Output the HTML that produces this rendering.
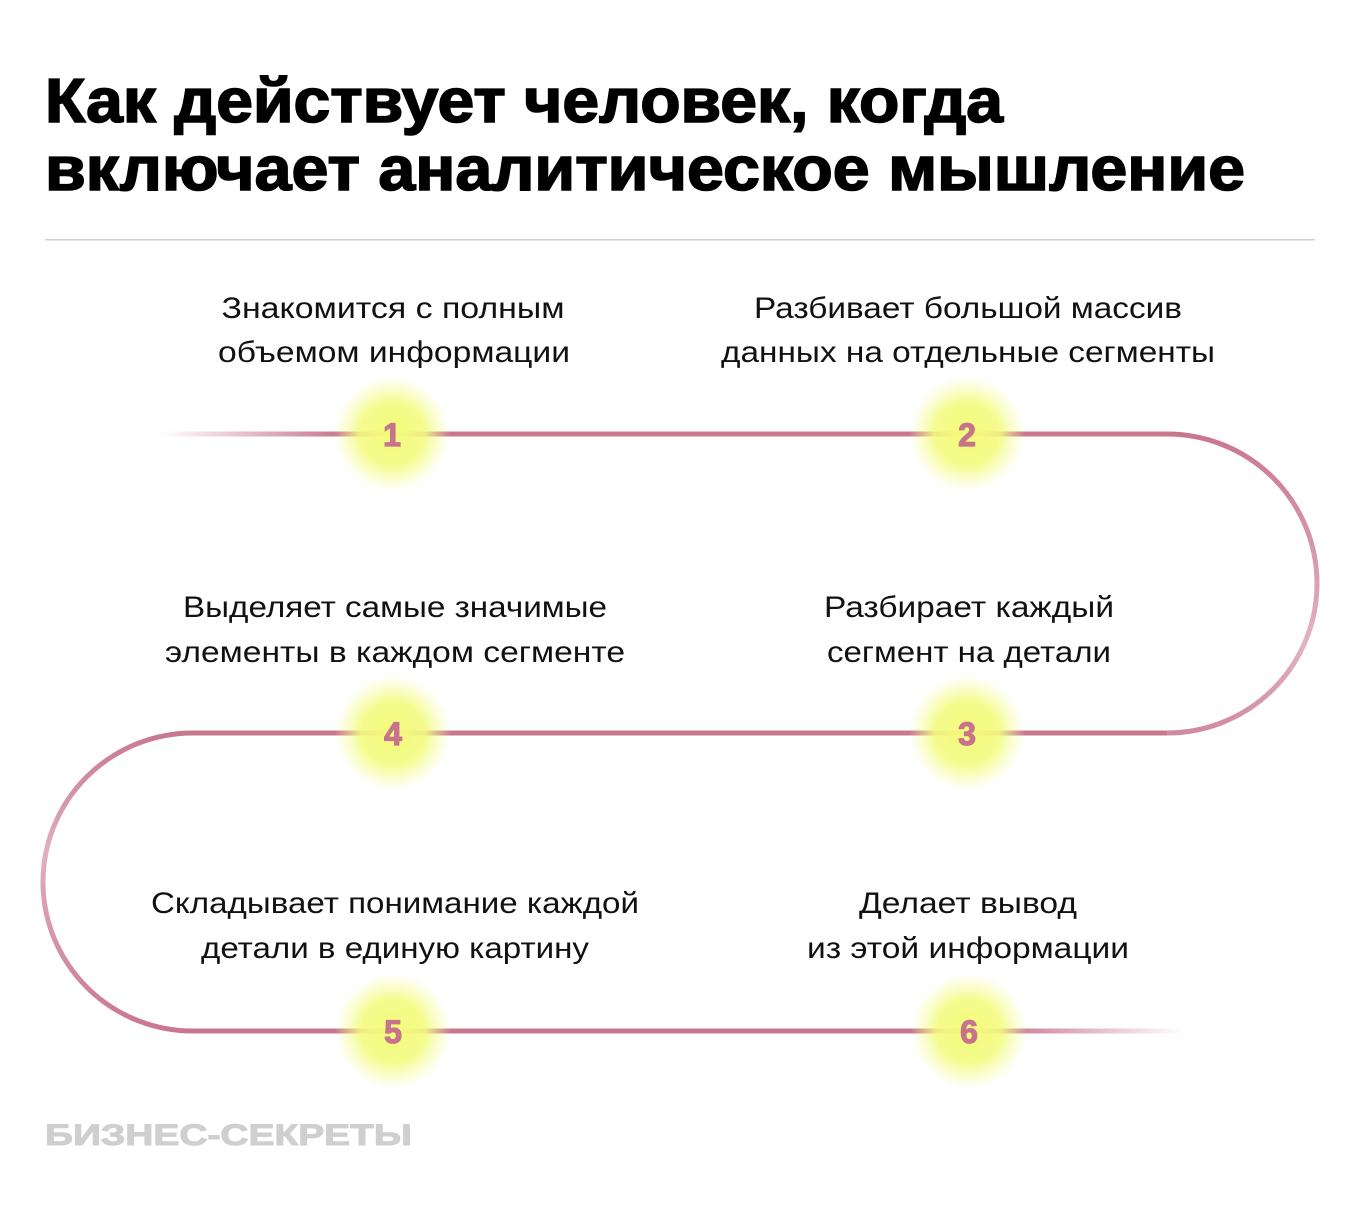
<!DOCTYPE html>
<html><head><meta charset="utf-8"><style>
html,body{margin:0;padding:0;background:#fff;}
svg{display:block;}
.t{font-family:"Liberation Sans","Noto Sans CJK SC",sans-serif;}
</style></head><body>
<svg width="1360" height="1211" viewBox="0 0 1360 1211" xmlns="http://www.w3.org/2000/svg">
<defs>
<radialGradient id="g"><stop offset="0" stop-color="#f3fb7a"/><stop offset="0.55" stop-color="#f3fb80" stop-opacity="0.9"/><stop offset="1" stop-color="#f6fca0" stop-opacity="0"/></radialGradient>
<linearGradient id="fl" x1="160" x2="340" y1="0" y2="0" gradientUnits="userSpaceOnUse"><stop offset="0" stop-color="#c9778f" stop-opacity="0"/><stop offset="1" stop-color="#c9778f"/></linearGradient>
<linearGradient id="fr" x1="1000" x2="1185" y1="0" y2="0" gradientUnits="userSpaceOnUse"><stop offset="0" stop-color="#c9778f"/><stop offset="1" stop-color="#c9778f" stop-opacity="0"/></linearGradient>
<linearGradient id="ar" x1="0" x2="0" y1="434" y2="733" gradientUnits="userSpaceOnUse"><stop offset="0" stop-color="#c9778f"/><stop offset="0.7" stop-color="#e2b3c2"/><stop offset="1" stop-color="#d08aa0"/></linearGradient>
<linearGradient id="al" x1="0" x2="0" y1="733" y2="1031" gradientUnits="userSpaceOnUse"><stop offset="0" stop-color="#c9778f"/><stop offset="0.4" stop-color="#e0b0c0"/><stop offset="1" stop-color="#c9778f"/></linearGradient>
</defs>
<g class="t" font-weight="bold" fill="#000" stroke="#000" stroke-width="1.6">
<text x="45" y="122" font-size="62" textLength="958" lengthAdjust="spacingAndGlyphs">Как действует человек, когда</text>
<text x="45" y="190" font-size="62" textLength="1200" lengthAdjust="spacingAndGlyphs">включает аналитическое мышление</text>
</g>
<rect x="45" y="239" width="1270" height="1.5" fill="#cfcfcf"/>
<g fill="none" stroke-width="5">
<line x1="160" y1="434" x2="345" y2="434" stroke="url(#fl)"/>
<path d="M345 434 H1167" stroke="#c9778f"/>
<path d="M1167 434 A150 149.5 0 0 1 1167 733" stroke="url(#ar)"/>
<path d="M1167 733 H193" stroke="#c9778f"/>
<path d="M193 733 A150 149 0 0 0 193 1031" stroke="url(#al)"/>
<path d="M193 1031 H1000" stroke="#c9778f"/>
<line x1="1000" y1="1031" x2="1185" y2="1031" stroke="url(#fr)"/>
</g>
<g fill="url(#g)">
<circle cx="392" cy="434" r="58"/><circle cx="967" cy="434" r="58"/>
<circle cx="393" cy="733" r="58"/><circle cx="967" cy="733" r="58"/>
<circle cx="393" cy="1031" r="58"/><circle cx="969" cy="1031" r="58"/>
</g>
<g class="t" font-weight="bold" font-size="32" fill="#c8738c" stroke="#c8738c" stroke-width="1.2" text-anchor="middle">
<text x="392" y="446">1</text><text x="967" y="446">2</text>
<text x="393" y="745">4</text><text x="967" y="745">3</text>
<text x="393" y="1043">5</text><text x="969" y="1043">6</text>
</g>
<g class="t" font-size="30" fill="#111" text-anchor="middle">
<text x="393" y="318" textLength="343" lengthAdjust="spacingAndGlyphs">Знакомится с полным</text>
<text x="394" y="362" textLength="352" lengthAdjust="spacingAndGlyphs">объемом информации</text>
<text x="968" y="318" textLength="428" lengthAdjust="spacingAndGlyphs">Разбивает большой массив</text>
<text x="968" y="362" textLength="494" lengthAdjust="spacingAndGlyphs">данных на отдельные сегменты</text>
<text x="395" y="617" textLength="424" lengthAdjust="spacingAndGlyphs">Выделяет самые значимые</text>
<text x="395" y="662" textLength="460" lengthAdjust="spacingAndGlyphs">элементы в каждом сегменте</text>
<text x="969" y="617" textLength="290" lengthAdjust="spacingAndGlyphs">Разбирает каждый</text>
<text x="969" y="662" textLength="284" lengthAdjust="spacingAndGlyphs">сегмент на детали</text>
<text x="395" y="913" textLength="488" lengthAdjust="spacingAndGlyphs">Складывает понимание каждой</text>
<text x="395" y="958" textLength="388" lengthAdjust="spacingAndGlyphs">детали в единую картину</text>
<text x="968" y="913" textLength="218" lengthAdjust="spacingAndGlyphs">Делает вывод</text>
<text x="968" y="958" textLength="322" lengthAdjust="spacingAndGlyphs">из этой информации</text>
</g>
<text class="t" x="45" y="1145" font-size="30" font-weight="bold" fill="#cfcfcf" stroke="#cfcfcf" stroke-width="1" textLength="367" lengthAdjust="spacingAndGlyphs">БИЗНЕС-СЕКРЕТЫ</text>
</svg>
</body></html>
